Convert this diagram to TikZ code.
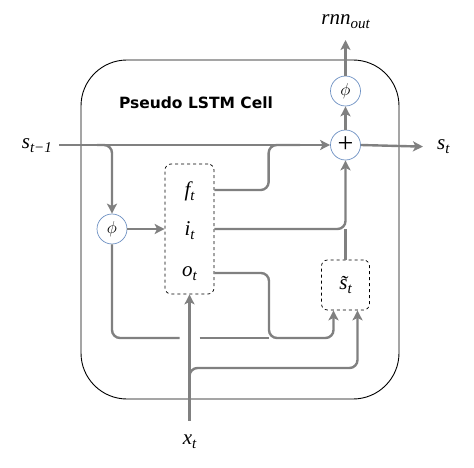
\documentclass[tikz,border=0pt]{standalone}
\usepackage{fontspec}
\setmainfont{Liberation Serif}
\newfontfamily\titlefont{DejaVu Sans}
\usetikzlibrary{arrows.meta,calc}
\definecolor{lg}{RGB}{128,128,128}
\definecolor{cb}{RGB}{110,145,195}
\newcommand{\mv}[2]{{\fontsize{21}{21}\selectfont\itshape #1\raisebox{-4pt}{\fontsize{15}{15}\selectfont #2}}}
\begin{document}
\begin{tikzpicture}[x=1pt,y=-1pt,
  conn/.style={draw=lg, line width=2.4pt},
  arr/.style={conn, -{Stealth[length=10pt,width=10pt,inset=2.5pt]}},
  op/.style={circle, draw=cb, line width=0.7pt, fill=white, minimum size=30pt, inner sep=0pt},
  gbox/.style={draw=black, dashed, line width=0.7pt, rounded corners=6pt, inner sep=0pt},
  lab/.style={inner sep=0pt}]
\useasboundingbox (0,0) rectangle (474,468);
\node[draw, line width=0.9pt, rounded corners=46pt, minimum width=318pt, minimum height=339pt] (cell) at (240,229.5) {};
\node[font=\titlefont\bfseries\fontsize{15.5}{16}\selectfont] (title) at (196,103) {Pseudo LSTM Cell};

\node[op] (plus) at (345.5,145) {\fontsize{28}{28}\selectfont +};
\node[op] (phiout) at (345.5,91) {\fontsize{19}{19}\selectfont$\phi$};
\node[op] (phiin) at (112,229) {\fontsize{19}{19}\selectfont$\phi$};
\node[gbox, minimum width=49pt, minimum height=130pt] (gates) at (189.5,229) {};
\node[lab] (ft) at (189.5,191) {\mv{f}{t}};
\node[lab] (it) at (189.5,231) {\mv{i}{t}};
\node[lab] (ot) at (189.5,274) {\mv{o}{t}};
\node[gbox, minimum width=48pt, minimum height=50pt] (stil) at (345.5,285) {\mv{\~{s}}{t}};
\node[lab] (xt) at (189.5,442) {\mv{x}{t}};
\node[lab, anchor=east] (sprev) at (52,146) {\mv{s}{t\textminus 1}};
\node[lab, anchor=west] (st) at (437,147) {\mv{s}{t}};
\node[lab, anchor=south] (rnn) at (345.5,29) {\mv{rnn}{out}};

\coordinate (jo) at (269,338);
\coordinate (jx) at (189.5,368);
\coordinate (sL) at ($(stil.south)+(-12,0)$);
\coordinate (sR) at ($(stil.south)+(12,0)$);

% main state line
\draw[arr, shorten <=7pt] (sprev.east |- plus) -- (plus.west);
\draw[arr, rounded corners=8pt] ($(phiin.north |- plus)+(-15,0)$) -| (phiin.north);
\draw[arr] (phiin.east) -- (gates.west);
% f_t
\draw[conn, rounded corners=8pt] ($(gates.east)+(0,-39)$) -| ($(plus.west)+(-61.5,0)$) -- ($(plus.west)+(-30,0)$);
% i_t
\draw[arr, rounded corners=8pt] (gates.east) -| (plus.south);
\draw[conn] (stil.north) -- (stil.north |- gates.east);
% o_t
\draw[arr, rounded corners=8pt] ($(gates.east)+(0,44)$) -| (jo) -| (sL);
% phi bottom
\draw[conn, rounded corners=8pt] (phiin.south) |- ($(xt.north |- jo)+(-10,0)$);
\draw[conn] ($(xt.north |- jo)+(10,0)$) -- (jo);
% x_t
\draw[arr, shorten <=14pt] (xt.north) -- (gates.south);
\draw[arr, rounded corners=8pt] ($(jx)+(0,20)$) |- (sR |- jx) -- (sR);
% outputs
\draw[arr] (plus.north) -- (phiout.south);
\draw[arr, shorten >=11pt] (phiout.north) -- (rnn.south);
\draw[arr, shorten >=14pt] (plus.east) -- (st.west);
\end{tikzpicture}
\end{document}
